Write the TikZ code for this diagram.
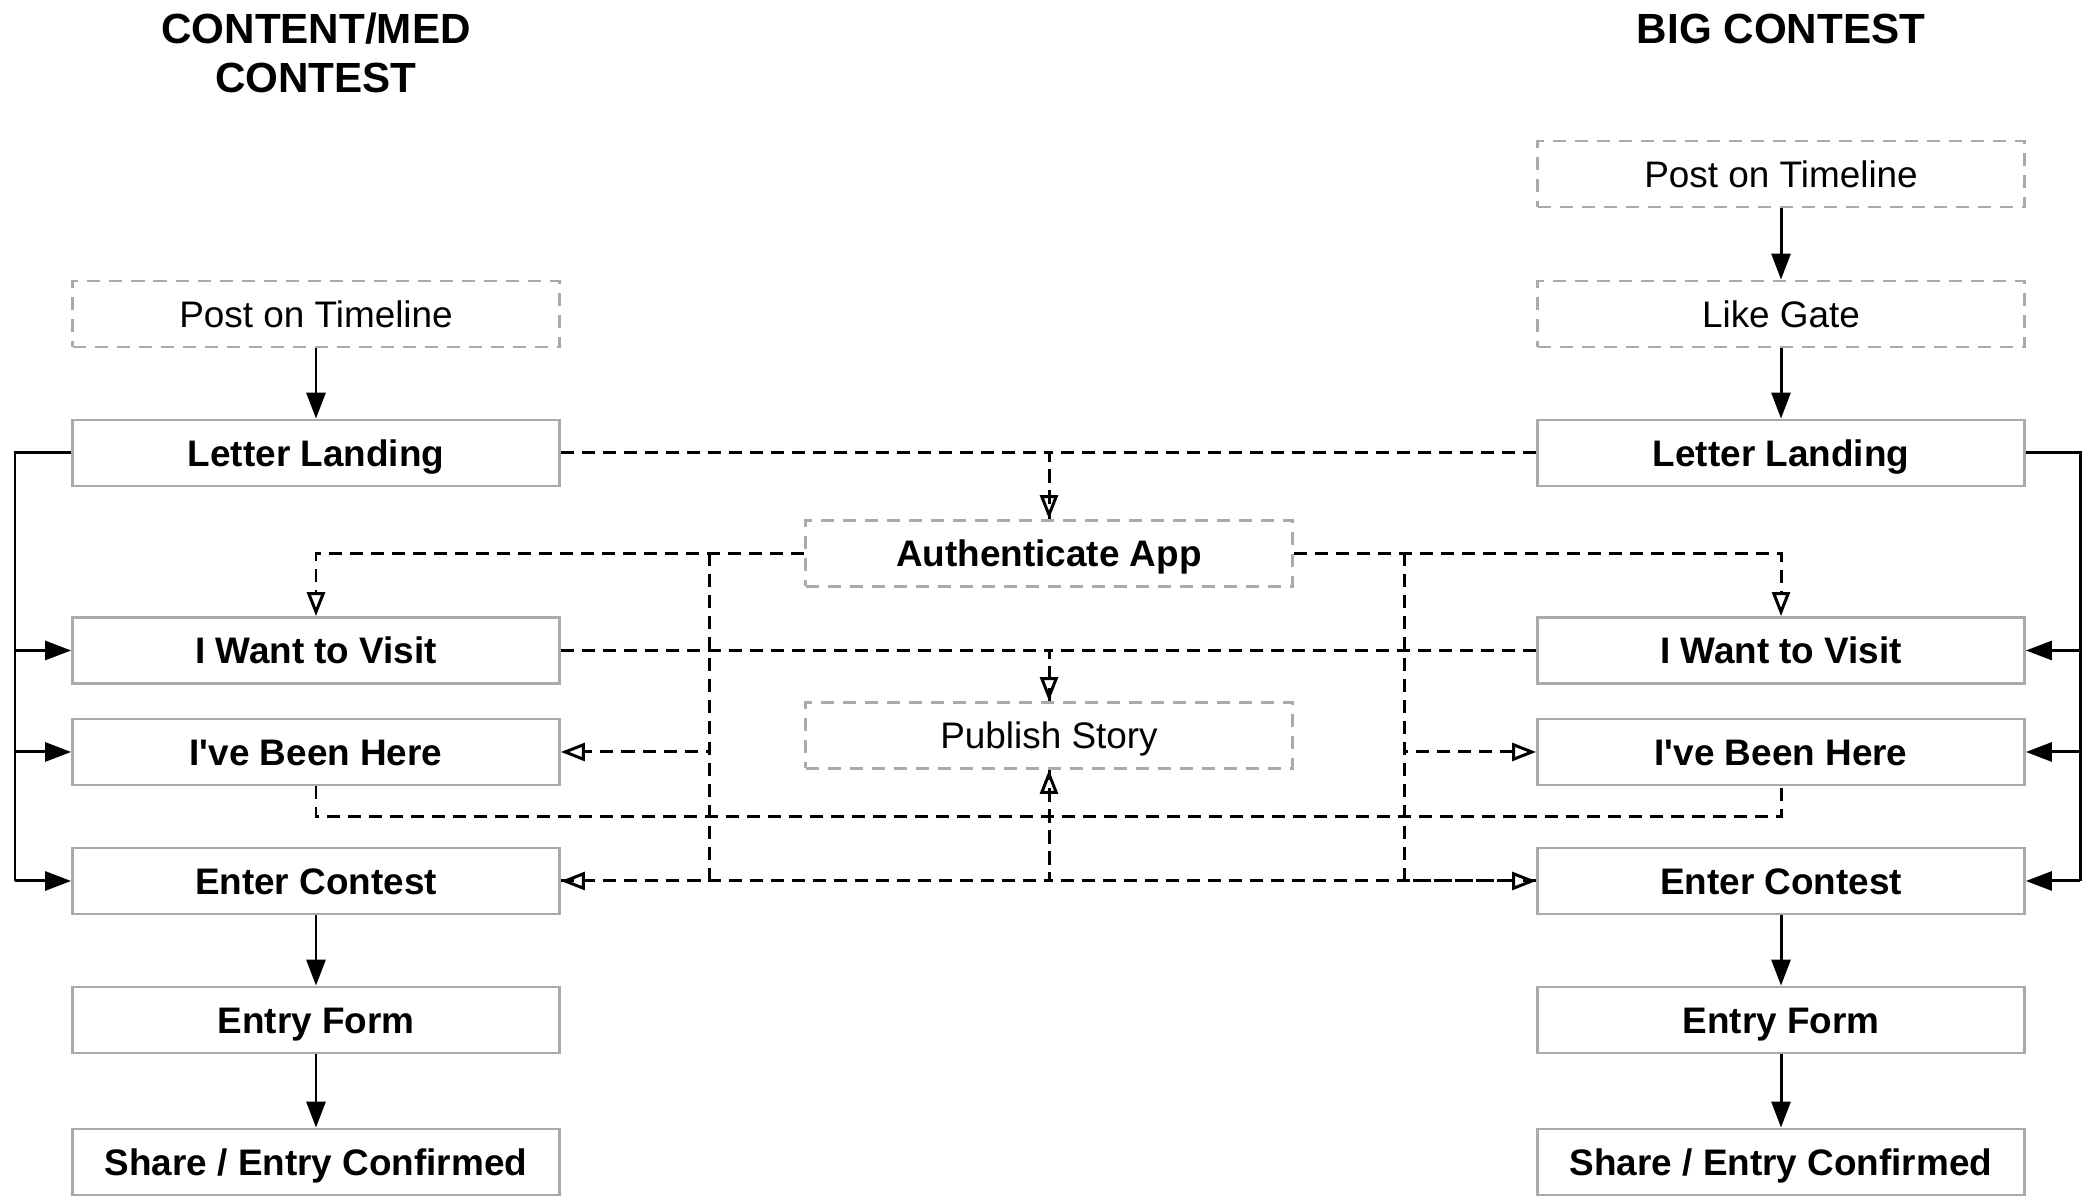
\documentclass[tikz,border=0pt]{standalone}
\usepackage{fontspec}
\setmainfont{Liberation Sans}
\usetikzlibrary{arrows.meta}
\definecolor{boxgray}{RGB}{170,170,170}
\tikzset{
  page/.style={draw=boxgray, line width=0.8pt, minimum width=4.87cm, minimum height=0.66cm, inner sep=0pt, text height=7.5pt, text depth=0pt, font=\fontsize{10.5}{12}\selectfont},
  optpage/.style={page, dash pattern=on 0.13cm off 0.09cm},
  bold/.style={font=\fontsize{10.5}{12}\selectfont\bfseries},
  heading/.style={font=\fontsize{12}{13.7}\selectfont\bfseries, align=center},
  flow/.style={line width=0.85pt, -{Triangle[length=0.26cm,width=0.19cm]}},
  link/.style={line width=0.85pt, dash pattern=on 0.13cm off 0.08cm},
  linkto/.style={link, -{Triangle[open,length=0.24cm,width=0.18cm]}}
}

\begin{document}
\begin{tikzpicture}
	%%%%% START %%%%%
	\useasboundingbox (0,0) rectangle (20.84,11.99);
	
	\node[heading] (headL) at (3.16,11.46) {CONTENT/MED\\CONTEST};
	\node[heading] (headR) at (17.81,11.70) {BIG CONTEST};
	
	% left column
	\node[optpage] (postL) at (3.16,8.85) {Post on Timeline};
	\node[page,bold] (landL) at (3.16,7.46) {Letter Landing};
	\node[page,bold] (visitL) at (3.16,5.485) {I Want to Visit};
	\node[page,bold] (beenL) at (3.16,4.47) {I\textquotesingle ve Been Here};
	\node[page,bold] (enterL) at (3.16,3.18) {Enter Contest};
	\node[page,bold] (formL) at (3.16,1.79) {Entry Form};
	\node[page,bold] (shareL) at (3.16,0.37) {Share / Entry Confirmed};
	
	% right column
	\node[optpage] (postR) at (17.81,10.25) {Post on Timeline};
	\node[optpage] (likeR) at (17.81,8.85) {Like Gate};
	\node[page,bold] (landR) at (17.81,7.46) {Letter Landing};
	\node[page,bold] (visitR) at (17.81,5.485) {I Want to Visit};
	\node[page,bold] (beenR) at (17.81,4.47) {I\textquotesingle ve Been Here};
	\node[page,bold] (enterR) at (17.81,3.18) {Enter Contest};
	\node[page,bold] (formR) at (17.81,1.79) {Entry Form};
	\node[page,bold] (shareR) at (17.81,0.37) {Share / Entry Confirmed};
	
	% middle
	\node[optpage,bold] (auth) at (10.49,6.455) {Authenticate App};
	\node[optpage] (story) at (10.49,4.635) {Publish Story};
	
	\coordinate (trunkL) at (0.15,0);
	\coordinate (trunkR) at (20.80,0);
	\coordinate (forkL) at (7.09,0);
	\coordinate (forkR) at (14.04,0);
	\coordinate (beenjoin) at (10.49,3.82);
	
	% solid flow
	\draw[flow] (postL) -- (landL);
	\draw[flow] (postR) -- (likeR);
	\draw[flow] (likeR) -- (landR);
	\draw[flow] (enterL) -- (formL);
	\draw[flow] (formL) -- (shareL);
	\draw[flow] (enterR) -- (formR);
	\draw[flow] (formR) -- (shareR);
	
	\draw[line width=0.85pt] (landL.west) -| (trunkL |- enterL.west);
	\draw[line width=0.85pt] (landR.east) -| (trunkR |- enterR.east);
	\foreach \n in {visitL,beenL,enterL}
		\draw[flow] (trunkL |- \n.west) -- (\n.west);
	\foreach \n in {visitR,beenR,enterR}
		\draw[flow] (trunkR |- \n.east) -- (\n.east);
	
	% dashed links
	\draw[linkto] (landL.east) -| (auth.north);
	\draw[link] (landR.west) -| (auth.north);
	\draw[linkto] (auth.west) -| (visitL.north);
	\draw[linkto] (auth.east) -| (visitR.north);
	\draw[linkto] (forkL |- auth.west) |- (beenL.east);
	\draw[linkto] (forkL |- auth.west) |- (enterL.east);
	\draw[linkto] (forkR |- auth.east) |- (beenR.west);
	\draw[linkto] (forkR |- auth.east) |- (enterR.west);
	\draw[linkto] (visitL.east) -| (story.north);
	\draw[link] (visitR.west) -| (story.north);
	\draw[link] (beenL.south) |- (beenjoin) -| (beenR.south);
	\draw[linkto] (enterL.east) -| (story.south);
	\draw[link] (enterR.west) -| (story.south);
	%%%%% END %%%%%
\end{tikzpicture}
\end{document}
